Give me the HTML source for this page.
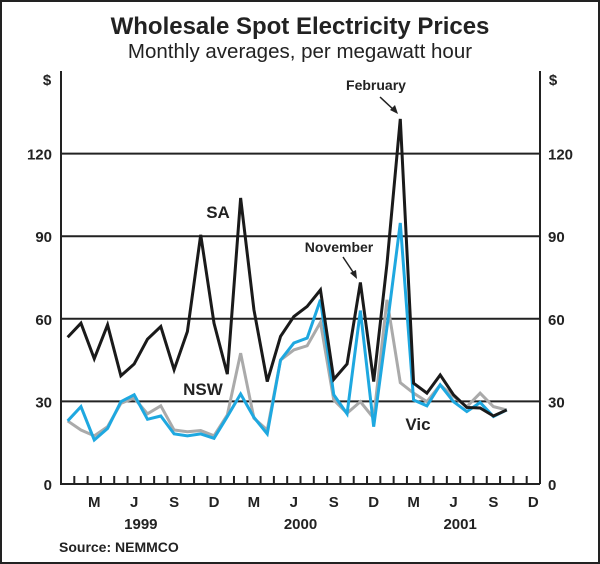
<!DOCTYPE html>
<html><head><meta charset="utf-8"><style>
body{margin:0;background:#fff}
svg{display:block}
text{font-family:"Liberation Sans",Arial,sans-serif;fill:#222}
</style></head><body>
<svg id="chart" width="600" height="564" viewBox="0 0 600 564">
<rect x="1" y="1" width="598" height="562" fill="#fff" stroke="#222" stroke-width="2"/>
<text x="300" y="34" text-anchor="middle" font-size="24" font-weight="bold">Wholesale Spot Electricity Prices</text>
<text x="300" y="58" text-anchor="middle" font-size="20.5">Monthly averages, per megawatt hour</text>
<text x="47" y="85" text-anchor="middle" font-size="15" font-weight="bold">$</text>
<text x="553" y="85" text-anchor="middle" font-size="15" font-weight="bold">$</text>
<g id="grid"></g>
<g id="series"></g>
<g id="axes"></g>
<text x="218" y="218" text-anchor="middle" font-size="17" font-weight="bold">SA</text>
<text x="203" y="395" text-anchor="middle" font-size="17" font-weight="bold">NSW</text>
<text x="418" y="430" text-anchor="middle" font-size="17" font-weight="bold">Vic</text>
<text x="339" y="252" text-anchor="middle" font-size="14" font-weight="bold">November</text>
<line x1="343" y1="257" x2="355" y2="275" stroke="#222" stroke-width="1.5"/>
<polygon points="357,279 350,273 356,270" fill="#222"/>
<text x="376" y="90" text-anchor="middle" font-size="14" font-weight="bold">February</text>
<line x1="380" y1="97" x2="395" y2="111" stroke="#222" stroke-width="1.5"/>
<polygon points="398,114 390,110 395,105" fill="#222"/>
<text x="59" y="552" font-size="14" font-weight="bold">Source: NEMMCO</text>
</svg>
<script>
const months = ["J","F","M","A","M","J","J","A","S","O","N","D","J","F","M","A","M","J","J","A","S","O","N","D","J","F","M","A","M","J","J","A","S","O","N","D"];
const years = ["1999","2000","2001"];
const yTicks = [0,30,60,90,120];
const saValues = [53.3,58.4,45.5,57.8,39.3,43.6,52.6,57.2,41.5,55.4,90.5,58.4,39.9,103.9,63.3,37.2,53.6,60.8,64.5,70.5,38,43.6,73.2,37.2,80,132.6,36.6,33,39.6,32.4,27.8,27.6,24.7,26.9];
const nswValues = [22.9,19.6,17.5,20.8,29.3,31.2,25.5,28.4,19.6,19,19.4,17.5,25.1,47.5,23.9,19.6,45,48.7,50.2,58.7,30.5,25.7,29.9,23.9,66.9,36.8,33,29.9,36,31.8,28.1,33,28.1,26.9];
const vicValues = [22.9,28.1,16,20.2,29.9,32.4,23.5,24.7,18.2,17.5,18.2,16.6,24.5,32.7,24.2,18.2,45,51.2,53,66.9,32.4,25.5,63,20.8,57,94.8,30.5,28.4,36,29.9,26.3,29.6,24.5,26.9];
const L=61,R=540,T=71,B=484,yMax=150;
const mw=(R-L)/months.length;
const xS=i=>L+(i+0.5)*mw;
const yS=v=>B-v/yMax*(B-T);
const NS="http://www.w3.org/2000/svg";
function mk(tag,attrs,parent){const e=document.createElementNS(NS,tag);for(const k in attrs)e.setAttribute(k,attrs[k]);document.getElementById(parent).appendChild(e);return e;}
yTicks.forEach(v=>{
  if(v>0){const g=mk("line",{x1:L,x2:R,y1:yS(v),y2:yS(v),stroke:"#222","stroke-width":2},"grid");
  
  }
  const t1=mk("text",{x:52,y:yS(v)+6,"text-anchor":"end","font-size":15,"font-weight":"bold"},"axes");t1.textContent=v;
  
  
  const t2=mk("text",{x:548,y:yS(v)+6,"text-anchor":"start","font-size":15,"font-weight":"bold"},"axes");t2.textContent=v;
  
  
});
[["nsw",nswValues,"#aaaaaa"],["vic",vicValues,"#1ea8e0"],["sa",saValues,"#1a1a1a"]].forEach(([n,vals,c])=>{
  const p=mk("polyline",{points:vals.map((v,i)=>xS(i)+","+yS(v)).join(" "),fill:"none",stroke:c,"stroke-width":3,"stroke-linejoin":"miter"},"series");
  
  
});
const ax=mk("path",{d:`M${L},${T} V${B} H${R} M${R},${T} V${B}`,stroke:"#222","stroke-width":2,fill:"none"},"axes");


for(let i=1;i<months.length;i++){
  const tk=mk("line",{x1:L+i*mw,x2:L+i*mw,y1:B,y2:B-8,stroke:"#222","stroke-width":2},"axes");
  
  
}
months.forEach((m,i)=>{
  if(i%3!==2)return;
  const t=mk("text",{x:xS(i),y:507,"text-anchor":"middle","font-size":15,"font-weight":"bold"},"axes");t.textContent=m;
  
  
});
years.forEach((y,j)=>{
  const t=mk("text",{x:L+(j*12+6)*mw,y:529,"text-anchor":"middle","font-size":15,"font-weight":"bold"},"axes");t.textContent=y;
  
  
});
</script>
</body></html>
